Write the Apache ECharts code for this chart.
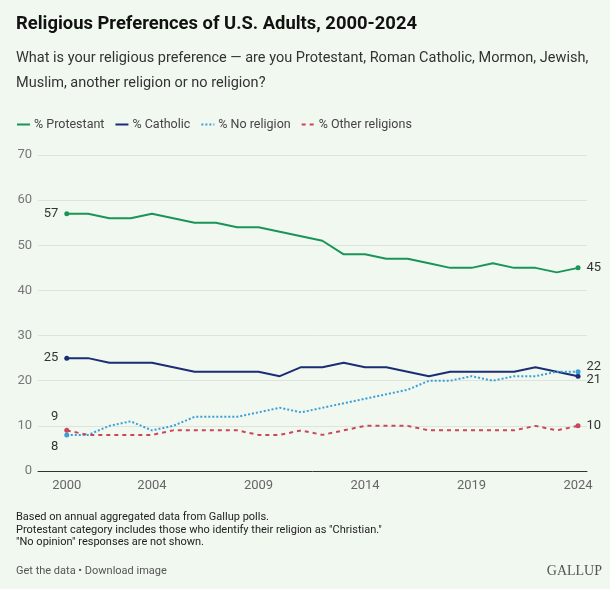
<!DOCTYPE html>
<html>
<head>
<meta charset="utf-8">
<script src="https://cdn.jsdelivr.net/npm/echarts@6/dist/echarts.min.js"></script>
<style>
html,body{margin:0;padding:0;background:#f1f8f0;}
#c{width:610px;height:589px;}
</style>
</head>
<body>
<div id="c"></div>
<script>
const years = [2000,2001,2002,2003,2004,2005,2006,2007,2008,2009,2010,2011,2012,2013,2014,2015,2016,2017,2018,2019,2020,2021,2022,2023,2024];
const protestant = [57,57,56,56,57,56,55,55,54,54,53,52,51,48,48,47,47,46,45,45,46,45,45,44,45];
const catholic   = [25,25,24,24,24,23,22,22,22,22,21,23,23,24,23,23,22,21,22,22,22,22,23,22,21];
const noReligion = [8,8,10,11,9,10,12,12,12,13,14,13,14,15,16,17,18,20,20,21,20,21,21,22,22];
const otherRel   = [9,8,8,8,8,9,9,9,9,8,8,9,8,9,10,10,10,9,9,9,9,9,10,9,10];
const xTickYears = [2000,2004,2009,2014,2019,2024];
const yTicks = [0,10,20,30,40,50,60,70];

const FONT = 'Roboto, "Noto Sans", sans-serif';

function build(vals, startOff, endOff) {
  return vals.map((v, i) => {
    const item = { value: [years[i], v] };
    if (i === 0 || i === vals.length - 1) {
      item.symbol = 'circle';
      item.symbolSize = 5;
      item.label = {
        show: true,
        position: i === 0 ? 'left' : 'right',
        distance: 6,
        offset: i === 0 ? startOff : endOff,
        color: '#333',
        fontSize: 13,
        fontFamily: FONT,
        formatter: String(v)
      };
    }
    return item;
  });
}

const chart = echarts.init(document.getElementById('c'));
chart.setOption({
  backgroundColor: '#f1f8f0',
  animation: false,
  textStyle: { fontFamily: FONT },
  title: [
    { text: 'Religious Preferences of U.S. Adults, 2000-2024', left: 11, top: 10,
      textStyle: { fontSize: 18.4, fontWeight: 'bold', color: '#111', fontFamily: FONT } },
    { text: 'What is your religious preference — are you Protestant, Roman Catholic, Mormon, Jewish,\nMuslim, another religion or no religion?',
      left: 11, top: 41,
      textStyle: { fontSize: 14.5, fontWeight: 'normal', color: '#333', lineHeight: 25, fontFamily: FONT } }
  ],
  legend: {
    left: 11, top: 113, itemWidth: 13, itemHeight: 10, itemGap: 10,
    itemStyle: { opacity: 0 },
    textStyle: { fontSize: 12.5, color: '#444', fontFamily: FONT, padding: [0, 0, 0, -1] },
    data: ['% Protestant', '% Catholic', '% No religion', '% Other religions']
  },
  grid: { left: 38, right: 23, top: 155, bottom: 118 },
  xAxis: {
    type: 'value', min: 1998.65, max: 2024.42,
    axisLine: { show: true, lineStyle: { color: '#333', width: 1 } },
    axisTick: { show: false },
    splitLine: { show: false },
    axisLabel: { customValues: xTickYears, color: '#666', fontSize: 13, margin: 8, fontFamily: FONT,
      formatter: v => String(v) }
  },
  yAxis: {
    type: 'value', min: 0, max: 70, interval: 10,
    axisLine: { show: false }, axisTick: { show: false },
    axisLabel: { color: '#777', fontSize: 13, margin: 6, fontFamily: FONT,
      formatter: v => yTicks.includes(v) ? String(v) : '' },
    splitLine: { lineStyle: { color: '#dce4db', width: 1 } }
  },
  series: [
    { name: '% Protestant', type: 'line', symbol: 'none', showSymbol: true,
      color: '#1a9555', lineStyle: { width: 2, color: '#1a9555' },
      data: build(protestant, [0, 0], [0, 0]) },
    { name: '% Catholic', type: 'line', symbol: 'none', showSymbol: true,
      color: '#1b2d74', lineStyle: { width: 2, color: '#1b2d74' },
      data: build(catholic, [0, 0], [0, 4]) },
    { name: '% No religion', type: 'line', symbol: 'none', showSymbol: true,
      color: '#3a9fd8', lineStyle: { width: 2, type: 'dotted', color: '#3a9fd8' },
      data: build(noReligion, [0, 12], [0, -5]) },
    { name: '% Other religions', type: 'line', symbol: 'none', showSymbol: true,
      color: '#c9475b', lineStyle: { width: 2, type: [4, 4], color: '#c9475b' },
      data: build(otherRel, [0, -14], [0, 0]) }
  ],
  graphic: [
    { type: 'text', left: 16, top: 511,
      style: { text: 'Based on annual aggregated data from Gallup polls.\nProtestant category includes those who identify their religion as "Christian."\n"No opinion" responses are not shown.',
        fontSize: 11, lineHeight: 12.5, fill: '#222', fontFamily: FONT } },
    { type: 'text', left: 16, top: 566,
      style: { text: 'Get the data • Download image', fontSize: 11, fill: '#555', fontFamily: FONT } },
    { type: 'text', right: 8, top: 564,
      style: { text: 'GALLUP', fontSize: 14, fill: '#555', fontFamily: '"Liberation Serif", "DejaVu Serif", serif' } }
  ]
});
</script>
</body>
</html>
